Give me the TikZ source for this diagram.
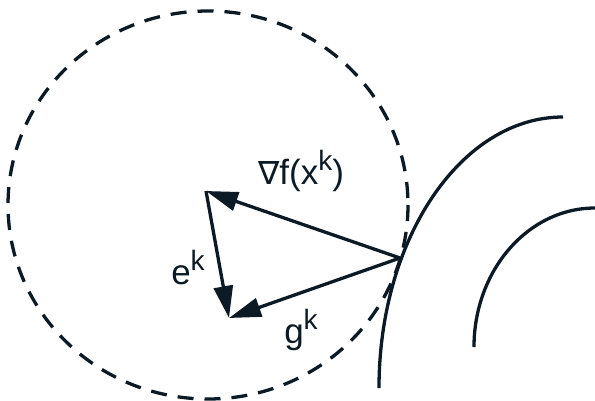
\documentclass[tikz,border=0pt]{standalone}
\usepackage{fontspec}
\setmainfont{Liberation Sans}
\newfontfamily\symfont{DejaVu Sans}
\usetikzlibrary{arrows.meta}
\definecolor{ink}{HTML}{0B1A24}
\newcommand{\supk}{\raisebox{0.40em}{\fontsize{28}{28}\selectfont k}}
\begin{document}
\begin{tikzpicture}[x=1pt,y=-1pt,
  curve/.style={draw=ink,line width=3.3pt},
  vec/.style={draw=ink,line width=3.3pt,-{Triangle[length=32pt,width=19pt]}},
  lbl/.style={text=ink,font=\fontsize{35}{35}\selectfont,inner sep=0pt}]
\useasboundingbox (0,0) rectangle (595,400);
% trust region
\draw[ink,line width=3.3pt,dash pattern=on 16pt off 11pt] (208,205) ellipse [x radius=200, y radius=194];
% level curves
\draw[curve] (379,388) arc[start angle=180,end angle=90,x radius=184,y radius=-271];
\draw[curve] (474,347) arc[start angle=180,end angle=90,x radius=121,y radius=-139];
% points
\coordinate (xk) at (400,258);
\coordinate (a) at (206,191);
\coordinate (b) at (229,318);
\draw[vec] (xk) -- (a);
\draw[vec] (a) -- (b);
\draw[vec] (xk) -- (b);
\node[lbl] (lgrad) at (301,171) {{\symfont\fontsize{32}{32}\selectfont ∇}f(x\supk)};
\node[lbl] (le) at (188,268) {e\supk};
\node[lbl] (lg) at (301,330) {g\supk};
\end{tikzpicture}
\end{document}
